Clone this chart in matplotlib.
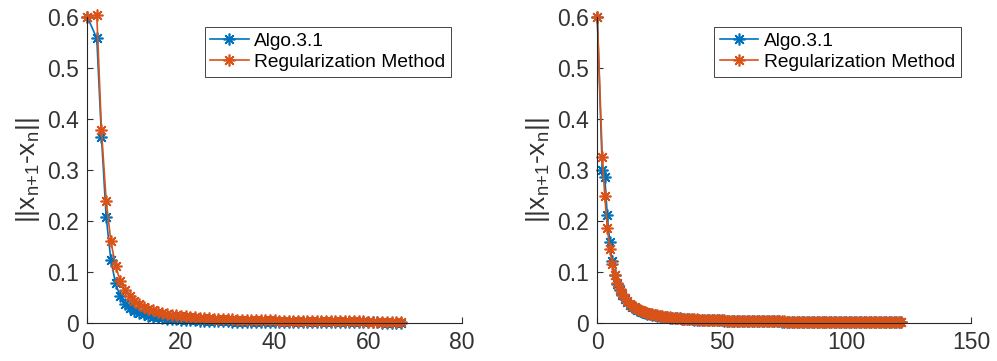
import matplotlib.pyplot as plt
from matplotlib.ticker import FormatStrFormatter

plt.rcParams['font.family'] = ['Liberation Sans', 'DejaVu Sans']
plt.rcParams['mathtext.default'] = 'regular'

# iteration indices (first entry is the starting point)
iters_left = [0] + list(range(2, 68))
iters_right = [0] + list(range(2, 123))

# ||x_{n+1} - x_n|| for the first test problem
algo_left = [0.600, 0.558, 0.365, 0.208, 0.124, 0.078, 0.052, 0.038, 0.030, 0.024,
             0.020, 0.017, 0.0145, 0.0125, 0.011, 0.0097, 0.0087, 0.0078, 0.0071, 0.0064,
             0.0059, 0.0054, 0.0050, 0.0046, 0.0043, 0.0040, 0.0037, 0.0035, 0.0033, 0.0031,
             0.0029, 0.0028, 0.0026, 0.0025, 0.0024, 0.0023, 0.0022, 0.0021, 0.0020, 0.0019,
             0.0018, 0.0018, 0.0017, 0.0016, 0.0016, 0.0015, 0.0015, 0.0014, 0.0014, 0.0013,
             0.0013, 0.0013, 0.0012, 0.0012, 0.0012, 0.0011, 0.0011, 0.0011, 0.0010, 0.0010,
             0.0010, 0.0010, 0.0009, 0.0009, 0.0009, 0.0009, 0.0008]
reg_left = [0.600, 0.604, 0.378, 0.240, 0.161, 0.112, 0.083, 0.065, 0.053, 0.044,
            0.037, 0.032, 0.028, 0.025, 0.022, 0.020, 0.018, 0.0165, 0.015, 0.0138,
            0.0128, 0.0119, 0.0111, 0.0104, 0.0098, 0.0092, 0.0087, 0.0082, 0.0078, 0.0074,
            0.0071, 0.0068, 0.0065, 0.0062, 0.0060, 0.0057, 0.0055, 0.0053, 0.0051, 0.0050,
            0.0048, 0.0046, 0.0045, 0.0044, 0.0042, 0.0041, 0.0040, 0.0039, 0.0038, 0.0037,
            0.0036, 0.0035, 0.0034, 0.0033, 0.0033, 0.0032, 0.0031, 0.0030, 0.0030, 0.0029,
            0.0028, 0.0028, 0.0027, 0.0027, 0.0026, 0.0026, 0.0025]

# same quantity for the second test problem
algo_right = [0.600, 0.300, 0.286, 0.212, 0.159, 0.121, 0.095, 0.077, 0.064, 0.054,
              0.047, 0.041, 0.036, 0.032, 0.029, 0.026, 0.024, 0.022, 0.020, 0.0185,
              0.0172, 0.0160, 0.0150, 0.0141, 0.0133, 0.0125, 0.0118, 0.0112, 0.0106, 0.0101,
              0.0096, 0.0092, 0.0088, 0.0084, 0.0080, 0.0077, 0.0074, 0.0071, 0.0068, 0.0066,
              0.0064, 0.0062, 0.0060, 0.0058, 0.0056, 0.0054, 0.0053, 0.0051, 0.0050, 0.0049,
              0.0047, 0.0046, 0.0045, 0.0044, 0.0043, 0.0042, 0.0041, 0.0040, 0.0039, 0.0038,
              0.0037, 0.0037, 0.0036, 0.0035, 0.0034, 0.0034, 0.0033, 0.0032, 0.0032, 0.0031,
              0.0031, 0.0030, 0.0030, 0.0029, 0.0029, 0.0028, 0.0028, 0.0027, 0.0027, 0.0026,
              0.0026, 0.0026, 0.0025, 0.0025, 0.0024, 0.0024, 0.0024, 0.0023, 0.0023, 0.0023,
              0.0022, 0.0022, 0.0022, 0.0021, 0.0021, 0.0021, 0.0020, 0.0020, 0.0020, 0.0020,
              0.0019, 0.0019, 0.0019, 0.0019, 0.0018, 0.0018, 0.0018, 0.0018, 0.0017, 0.0017,
              0.0017, 0.0017, 0.0017, 0.0016, 0.0016, 0.0016, 0.0016, 0.0016, 0.0015, 0.0015,
              0.0015, 0.0015]
reg_right = [0.600, 0.326, 0.249, 0.187, 0.145, 0.115, 0.094, 0.078, 0.066, 0.056,
             0.049, 0.043, 0.038, 0.034, 0.031, 0.028, 0.025, 0.023, 0.021, 0.0195,
             0.0181, 0.0168, 0.0157, 0.0147, 0.0138, 0.0130, 0.0123, 0.0116, 0.0110, 0.0105,
             0.0100, 0.0095, 0.0091, 0.0087, 0.0083, 0.0080, 0.0077, 0.0074, 0.0071, 0.0069,
             0.0066, 0.0064, 0.0062, 0.0060, 0.0058, 0.0057, 0.0055, 0.0053, 0.0052, 0.0051,
             0.0049, 0.0048, 0.0047, 0.0046, 0.0045, 0.0044, 0.0043, 0.0042, 0.0041, 0.0040,
             0.0039, 0.0038, 0.0037, 0.0037, 0.0036, 0.0035, 0.0034, 0.0034, 0.0033, 0.0033,
             0.0032, 0.0031, 0.0031, 0.0030, 0.0030, 0.0029, 0.0029, 0.0028, 0.0028, 0.0027,
             0.0027, 0.0027, 0.0026, 0.0026, 0.0025, 0.0025, 0.0025, 0.0024, 0.0024, 0.0024,
             0.0023, 0.0023, 0.0023, 0.0022, 0.0022, 0.0022, 0.0021, 0.0021, 0.0021, 0.0021,
             0.0020, 0.0020, 0.0020, 0.0020, 0.0019, 0.0019, 0.0019, 0.0019, 0.0018, 0.0018,
             0.0018, 0.0018, 0.0018, 0.0017, 0.0017, 0.0017, 0.0017, 0.0017, 0.0016, 0.0016,
             0.0016, 0.0016]

labels = ['Algo.3.1', 'Regularization Method']
blue = '#0072BD'
orange = '#D95319'
axis_col = '#262626'
asterisk = (8, 2, 0)

fig = plt.figure(figsize=(9.97, 3.61), dpi=100)
ax1 = fig.add_axes([0.0877, 0.1053, 0.3754, 0.8476])
ax2 = fig.add_axes([0.5991, 0.1053, 0.3748, 0.8476])

panels = [
    (ax1, iters_left, algo_left, reg_left, 80, [0, 20, 40, 60, 80]),
    (ax2, iters_right, algo_right, reg_right, 150, [0, 50, 100, 150]),
]

for ax, it, a, r, xmax, xticks in panels:
    ax.plot(it, a, color=blue, lw=1.2, marker=asterisk, ms=8.5, mew=1.2, clip_on=False)
    ax.plot(it, r, color=orange, lw=1.2, marker=asterisk, ms=8.5, mew=1.2, clip_on=False)
    ax.set_xlim(0, xmax)
    ax.set_ylim(0, 0.6)
    ax.set_xticks(xticks)
    ax.set_yticks([0, 0.1, 0.2, 0.3, 0.4, 0.5, 0.6])
    ax.yaxis.set_major_formatter(FormatStrFormatter('%g'))
    ax.spines['top'].set_visible(False)
    ax.spines['right'].set_visible(False)
    for s in ['left', 'bottom']:
        ax.spines[s].set_color(axis_col)
        ax.spines[s].set_linewidth(0.8)
    ax.tick_params(direction='in', length=4, width=0.8, colors='#333333',
                   labelsize=16.5, pad=6)
    ax.set_ylabel('$||x_{n{+}1}$-$x_n||$', fontsize=19, color='#333333', labelpad=4)
    leg = ax.legend(labels, loc='upper right', bbox_to_anchor=(0.972, 0.968),
                    borderaxespad=0, fontsize=13.8, fancybox=False, framealpha=1,
                    edgecolor=axis_col, handlelength=2.0, handletextpad=0.3,
                    labelspacing=0.18, borderpad=0.3)
    leg.get_frame().set_linewidth(0.6)

plt.savefig('out.png', dpi=100)
